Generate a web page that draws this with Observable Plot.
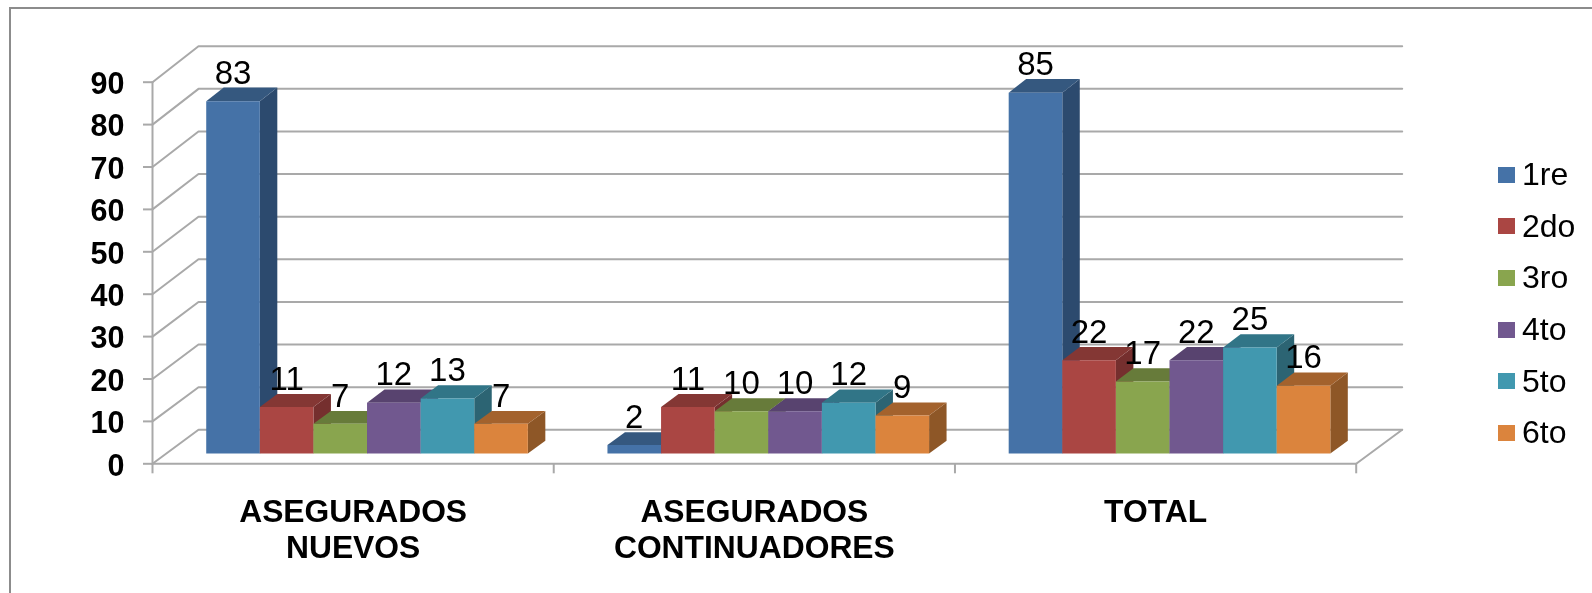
<!DOCTYPE html>
<html>
<head>
<meta charset="utf-8">
<script src="https://cdn.jsdelivr.net/npm/d3@7"></script>
<script src="https://cdn.jsdelivr.net/npm/@observablehq/plot@0.6"></script>
<style>
html,body{margin:0;padding:0;background:#fff;width:1592px;height:593px;overflow:hidden}
#wrap{position:relative;width:1592px;height:593px;font-family:"Liberation Sans",Arial,sans-serif}
#frame{position:absolute;left:9px;top:7px;width:1600px;height:620px;border:2px solid #8c8c8c;box-sizing:border-box}
#chart{position:absolute;left:0;top:0}
#legend{position:absolute;left:1498px;top:149px;font-size:32px;color:#000;filter:blur(0.4px)}
.row{display:flex;align-items:center;height:51.6px}
.sw{width:17px;height:16px;margin-right:7px}
svg{filter:blur(0.4px)}
</style>
</head>
<body>
<div id="wrap"><div id="frame"></div><div id="chart"></div><div id="legend"></div></div>
<script>
const groups = ["ASEGURADOS\nNUEVOS", "ASEGURADOS\nCONTINUADORES", "TOTAL"];
const seriesNames = ["1re", "2do", "3ro", "4to", "5to", "6to"];
const v1re = [83, 2, 85];
const v2do = [11, 11, 22];
const v3ro = [7, 10, 17];
const v4to = [12, 10, 22];
const v5to = [13, 12, 25];
const v6to = [7, 9, 16];
const yTicks = [0, 10, 20, 30, 40, 50, 60, 70, 80, 90];
const frontColors = ["#4572a7", "#aa4643", "#89a54e", "#71588f", "#4198af", "#db843d"];
const topColors = ["#35587f", "#843734", "#677b3a", "#58436f", "#317587", "#a3622d"];
const sideColors = ["#2c4a6e", "#752f2e", "#5e7034", "#4c3a60", "#2c6473", "#8e5727"];
const allValues = [v1re, v2do, v3ro, v4to, v5to, v6to];

// oblique projection in data units, with a slight growth towards the back wall
const depthX = 46 / 401.2, depthY = 34 / 4.24, growY = 0.0052;
const P = (x, y, z) => ({px: x + z * depthX, py: y * (1 + z * growY) + z * depthY});
const gap = 0.0995, barW = 0.1336, z0 = 0.3, z1 = 0.68;

const faces = [], labels = [];
groups.forEach((g, i) => {
  seriesNames.forEach((s, j) => {
    const v = allValues[j][i];
    const a = i + gap + j * barW, b = a + barW;
    const id = `${i}-${j}`;
    const poly = (name, color, pts) => pts.forEach(p => faces.push({id: id + name, color, ...p}));
    poly("s", sideColors[j], [P(b, 0, z0), P(b, v, z0), P(b, v, z1), P(b, 0, z1)]);
    poly("t", topColors[j], [P(a, v, z0), P(b, v, z0), P(b, v, z1), P(a, v, z1)]);
    poly("f", frontColors[j], [P(a, 0, z0), P(b, 0, z0), P(b, v, z0), P(a, v, z0)]);
    labels.push({...P((a + b) / 2, v, z0), text: String(v)});
  });
});

// walls and floor
const gridLines = [];
yTicks.forEach(t => {
  [P(0, t, 0), P(0, t, 1), P(3, t, 1)].forEach(p => gridLines.push({id: "g" + t, ...p}));
});
[P(3, 0, 0), P(3, 0, 1)].forEach(p => gridLines.push({id: "edge", ...p}));
[P(0, 0, 0), P(3, 0, 0)].forEach(p => gridLines.push({id: "axisX", ...p}));
[P(0, 0, 0), P(0, 90, 0)].forEach(p => gridLines.push({id: "axisY", ...p}));

const grey = "#a9a9a9";
const plot = Plot.plot({
  width: 1592, height: 593,
  marginLeft: 152, marginRight: 236.3, marginTop: 81.7, marginBottom: 129.7,
  x: {domain: [0, 3], axis: null},
  y: {domain: [0, 90], axis: null},
  style: {fontFamily: '"Liberation Sans", Arial, sans-serif', background: "transparent", overflow: "visible"},
  marks: [
    Plot.line(gridLines, {x: "px", y: "py", z: "id", stroke: grey, strokeWidth: 2}),
    Plot.ruleY(yTicks, {x1: -9 / 401.2, x2: 0, stroke: grey, strokeWidth: 2}),
    Plot.ruleX([0, 1, 2, 3], {y1: -10 / 4.24, y2: 0, stroke: grey, strokeWidth: 2}),
    Plot.line(faces, {x: "px", y: "py", z: "id", fill: "color", stroke: "none"}),
    Plot.text(labels, {x: "px", y: "py", text: "text", fontSize: 33, dy: -17.3, lineAnchor: "bottom", fill: "#000"}),
    Plot.text(yTicks, {x: 0, y: d => d, text: d => String(d), dx: -28, dy: 2, textAnchor: "end", fontSize: 30.5, fontWeight: "bold", fill: "#000"}),
    Plot.text(groups, {x: (d, i) => i + 0.5, y: 0, text: d => d, dy: 32, lineAnchor: "top", lineHeight: 1.15, fontSize: 31.8, fontWeight: "bold", fill: "#000"})
  ]
});
document.getElementById("chart").appendChild(plot);

const legend = document.getElementById("legend");
seriesNames.forEach((s, j) => {
  const row = document.createElement("div");
  row.className = "row";
  const sw = document.createElement("div");
  sw.className = "sw";
  sw.style.background = frontColors[j];
  const tx = document.createElement("span");
  tx.textContent = s;
  row.append(sw, tx);
  legend.append(row);
});
</script>
</body>
</html>
